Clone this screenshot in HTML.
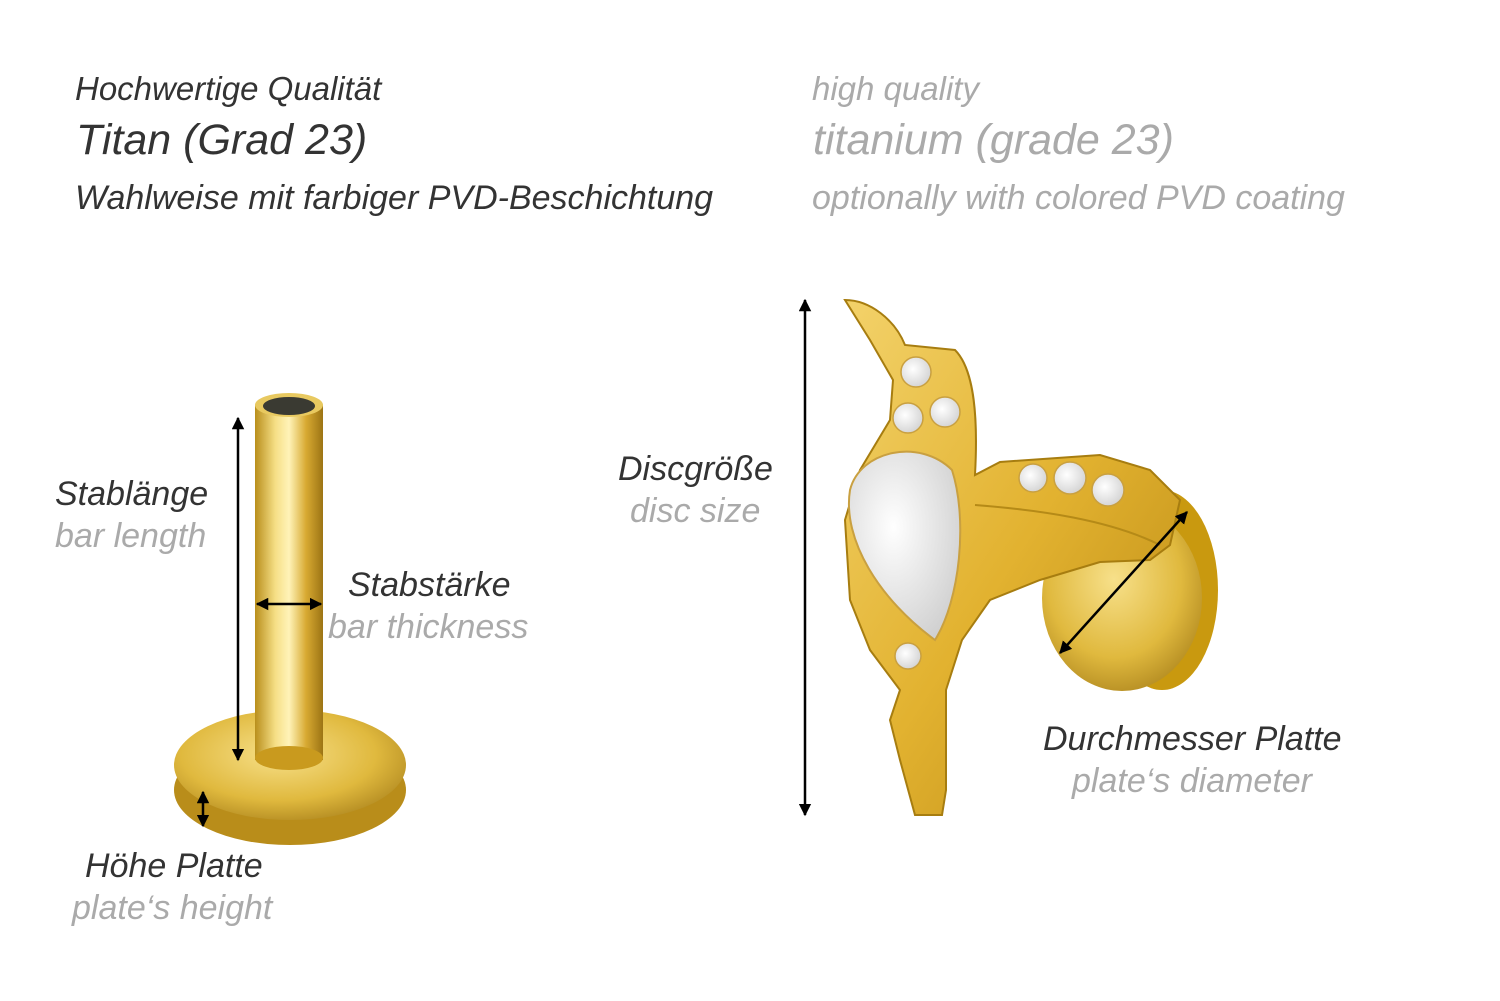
<!DOCTYPE html>
<html><head><meta charset="utf-8"><style>
body{margin:0;background:#fff;width:1500px;height:1001px;overflow:hidden;position:relative;font-family:"Liberation Sans",sans-serif;font-style:italic}
.t{position:absolute;white-space:nowrap;line-height:1;font-size:34px}
.d{color:#333}.g{color:#aaa}
</style></head><body>
<svg width="1500" height="1001" style="position:absolute;left:0;top:0">
<defs>
<linearGradient id="gs" x1="0" x2="1"><stop offset="0" stop-color="#b98f1c"/><stop offset=".3" stop-color="#f6df86"/><stop offset=".5" stop-color="#fff3b8"/><stop offset=".75" stop-color="#d8aa32"/><stop offset="1" stop-color="#9c7414"/></linearGradient>
<radialGradient id="gd" cx=".45" cy=".4" r=".7"><stop offset="0" stop-color="#f7e08a"/><stop offset=".6" stop-color="#e0b93e"/><stop offset="1" stop-color="#a77f1a"/></radialGradient>
<linearGradient id="gb" x1="0" y1="0" x2="1" y2="1"><stop offset="0" stop-color="#f3d26a"/><stop offset=".5" stop-color="#e2b230"/><stop offset="1" stop-color="#b98812"/></linearGradient>
<radialGradient id="gem" cx=".4" cy=".4" r=".7"><stop offset="0" stop-color="#fff"/><stop offset="1" stop-color="#cfcfcf"/></radialGradient>
<marker id="a" viewBox="0 0 10 10" refX="9" refY="5" markerWidth="5" markerHeight="5" orient="auto-start-reverse"><path d="M0,0L10,5L0,10z" fill="#000"/></marker>
</defs>
<ellipse cx="290" cy="790" rx="116" ry="55" fill="#b98d1a"/>
<ellipse cx="290" cy="765" rx="116" ry="55" fill="url(#gd)"/>
<rect x="255" y="405" width="68" height="355" fill="url(#gs)"/>
<ellipse cx="289" cy="758" rx="34" ry="12" fill="#c99a1e"/>
<ellipse cx="289" cy="405" rx="34" ry="12" fill="#e8c960"/>
<ellipse cx="289" cy="406" rx="26" ry="9" fill="#3a3a32"/>
<line x1="238" y1="418" x2="238" y2="760" stroke="#000" stroke-width="2.5" marker-start="url(#a)" marker-end="url(#a)"/>
<line x1="257" y1="604" x2="321" y2="604" stroke="#000" stroke-width="2.5" marker-start="url(#a)" marker-end="url(#a)"/>
<line x1="203" y1="792" x2="203" y2="826" stroke="#000" stroke-width="2.5" marker-start="url(#a)" marker-end="url(#a)"/>
<ellipse cx="1162" cy="590" rx="56" ry="100" fill="#c9990f"/>
<ellipse cx="1122" cy="598" rx="80" ry="93" fill="url(#gd)"/>
<path d="M845,300 C870,300 895,320 905,345 L955,350 C975,370 978,420 975,475 L1000,462 L1100,455 L1150,470 L1180,500 L1170,545 L1150,560 L1100,562 L1040,580 L990,600 L962,640 L946,690 L946,790 L942,815 L915,815 L900,760 L890,720 L900,690 L870,650 L850,600 L845,520 L860,470 L890,420 L893,380 L870,340 Z" fill="url(#gb)" stroke="#a77d10" stroke-width="2"/>
<path d="M975,505 C1040,510 1110,520 1160,545" stroke="#b58a17" stroke-width="2" fill="none"/>
<path d="M935,640 C880,600 842,540 850,490 C860,450 920,438 952,470 C968,520 960,600 935,640Z" fill="url(#gem)" stroke="#c9a040" stroke-width="2"/>
<g fill="url(#gem)" stroke="#c9a040" stroke-width="1.5">
<circle cx="916" cy="372" r="15"/><circle cx="908" cy="418" r="15"/><circle cx="945" cy="412" r="15"/>
<circle cx="1033" cy="478" r="14"/><circle cx="1070" cy="478" r="16"/><circle cx="1108" cy="490" r="16"/>
<circle cx="908" cy="656" r="13"/></g>
<line x1="805" y1="300" x2="805" y2="815" stroke="#000" stroke-width="2.5" marker-start="url(#a)" marker-end="url(#a)"/>
<line x1="1060" y1="653" x2="1187" y2="512" stroke="#000" stroke-width="2.5" marker-start="url(#a)" marker-end="url(#a)"/>
</svg>
<div class="t d" style="left:75px;top:72px;font-size:33px">Hochwertige Qualität</div>
<div class="t d" style="left:76px;top:119px;font-size:43px">Titan (Grad 23)</div>
<div class="t d" style="left:75px;top:181px">Wahlweise mit farbiger PVD-Beschichtung</div>
<div class="t g" style="left:812px;top:72px;font-size:33px">high quality</div>
<div class="t g" style="left:813px;top:119px;font-size:43px">titanium (grade 23)</div>
<div class="t g" style="left:812px;top:181px">optionally with colored PVD coating</div>
<div class="t d" style="left:55px;top:477px">Stablänge</div>
<div class="t g" style="left:55px;top:519px">bar length</div>
<div class="t d" style="left:348px;top:568px">Stabstärke</div>
<div class="t g" style="left:328px;top:610px">bar thickness</div>
<div class="t d" style="left:618px;top:452px">Discgröße</div>
<div class="t g" style="left:630px;top:494px">disc size</div>
<div class="t d" style="left:1043px;top:722px">Durchmesser Platte</div>
<div class="t g" style="left:1072px;top:764px">plate‘s diameter</div>
<div class="t d" style="left:85px;top:849px">Höhe Platte</div>
<div class="t g" style="left:72px;top:891px">plate‘s height</div>
</body></html>
